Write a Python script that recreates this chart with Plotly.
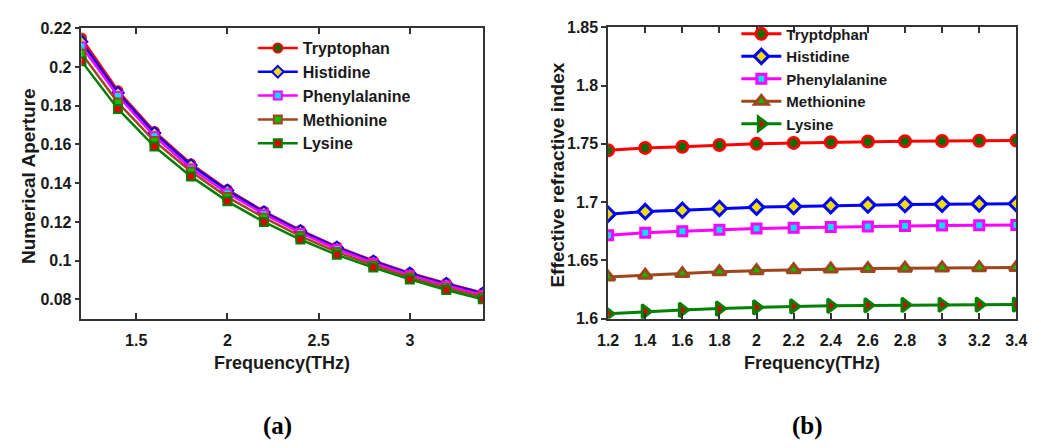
import plotly.graph_objects as go

# ---------------- data ----------------
freq = [1.2, 1.4, 1.6, 1.8, 2.0, 2.2, 2.4, 2.6, 2.8, 3.0, 3.2, 3.4]
names = ["Tryptophan", "Histidine", "Phenylalanine", "Methionine", "Lysine"]

na_tryptophan = [0.215, 0.1877, 0.1667, 0.1500, 0.1367, 0.1255, 0.1157, 0.1072, 0.1000, 0.0937, 0.0884, 0.0834]
na_histidine = [0.2130, 0.1866, 0.1659, 0.1493, 0.1362, 0.1250, 0.1153, 0.1068, 0.0996, 0.0933, 0.0880, 0.0830]
na_phenylalanine = [0.2106, 0.1850, 0.1642, 0.1476, 0.1348, 0.1240, 0.1143, 0.1060, 0.0988, 0.0925, 0.0872, 0.0823]
na_methionine = [0.2070, 0.1816, 0.1617, 0.1460, 0.1328, 0.1222, 0.1127, 0.1045, 0.0976, 0.0914, 0.0860, 0.0812]
na_lysine = [0.2030, 0.1783, 0.1589, 0.1435, 0.1306, 0.1200, 0.1109, 0.1030, 0.0964, 0.0903, 0.0848, 0.0801]

ri_tryptophan = [1.7445, 1.7465, 1.7475, 1.7490, 1.7500, 1.7508, 1.7514, 1.7520, 1.7522, 1.7525, 1.7527, 1.7528]
ri_histidine = [1.6897, 1.6919, 1.6930, 1.6946, 1.6957, 1.6963, 1.6970, 1.6975, 1.6979, 1.6982, 1.6985, 1.6987]
ri_phenylalanine = [1.6717, 1.6737, 1.6750, 1.6764, 1.6773, 1.6781, 1.6787, 1.6792, 1.6796, 1.6799, 1.6801, 1.6803]
ri_methionine = [1.6357, 1.6373, 1.6387, 1.6403, 1.6412, 1.6420, 1.6426, 1.6430, 1.6433, 1.6436, 1.6438, 1.6440]
ri_lysine = [1.6043, 1.6062, 1.6076, 1.6087, 1.6098, 1.6106, 1.6111, 1.6115, 1.6118, 1.6120, 1.6121, 1.6122]

a_xtick_vals = [1.5, 2.0, 2.5, 3.0]
a_xtick_text = ["1.5", "2", "2.5", "3"]
a_ytick_vals = [0.08, 0.10, 0.12, 0.14, 0.16, 0.18, 0.20, 0.22]
a_ytick_text = ["0.08", "0.1", "0.12", "0.14", "0.16", "0.18", "0.2", "0.22"]
b_xtick_vals = freq
b_xtick_text = ["1.2", "1.4", "1.6", "1.8", "2", "2.2", "2.4", "2.6", "2.8", "3", "3.2", "3.4"]
b_ytick_vals = [1.60, 1.65, 1.70, 1.75, 1.80, 1.85]
b_ytick_text = ["1.6", "1.65", "1.7", "1.75", "1.8", "1.85"]

# ---------------- styles ----------------
line_colors = ["#FF0000", "#0000FF", "#FF00FF", "#A0461E", "#008000"]
face_colors = ["#007000", "#F0E000", "#00E0FF", "#00C000", "#E00000"]
a_symbols = ["circle", "diamond", "square", "square", "square"]
b_symbols = ["circle", "diamond", "square", "triangle-up", "triangle-right"]
a_sizes = [9, 9, 8, 8, 8]
b_sizes = [11, 11, 9, 12, 12]

W, H = 1041, 448
TXT = "#1a1a1a"
AX = "#333333"
tickfont = dict(family="Liberation Sans", size=16, color=TXT, weight="bold")

fig = go.Figure()

na_series = [na_tryptophan, na_histidine, na_phenylalanine, na_methionine, na_lysine]
ri_series = [ri_tryptophan, ri_histidine, ri_phenylalanine, ri_methionine, ri_lysine]

for i, name in enumerate(names):
    fig.add_trace(go.Scatter(
        x=freq, y=na_series[i], name=name, mode="lines+markers",
        xaxis="x", yaxis="y", legend="legend",
        line=dict(color=line_colors[i], width=2.5),
        marker=dict(symbol=a_symbols[i], size=a_sizes[i], color=face_colors[i],
                    line=dict(color=line_colors[i], width=2)),
    ))

for i, name in enumerate(names):
    fig.add_trace(go.Scatter(
        x=freq, y=ri_series[i], name=name, mode="lines+markers",
        xaxis="x2", yaxis="y2", legend="legend2",
        line=dict(color=line_colors[i], width=3),
        marker=dict(symbol=b_symbols[i], size=b_sizes[i], color=face_colors[i],
                    line=dict(color=line_colors[i], width=3)),
    ))

a_dom_x = [72 / W, 482 / W]
b_dom_x = [610 / W, 1027 / W]
a_dom_y = [1 - 323 / H, 1 - 21 / H]
b_dom_y = [1 - 323 / H, 1 - 20 / H]

def xax(dom, anchor, tv, tt):
    return dict(domain=dom, anchor=anchor, range=[1.2, 3.4], tickvals=tv, ticktext=tt,
                ticks="inside", ticklen=6, tickwidth=1.5, tickcolor=AX, mirror="ticks",
                showline=True, linecolor=AX, linewidth=1.5, showgrid=False, zeroline=False,
                tickfont=tickfont, ticklabelstandoff=6)

def yax(dom, anchor, rng, tv, tt):
    return dict(domain=dom, anchor=anchor, range=rng, tickvals=tv, ticktext=tt,
                ticks="outside", ticklen=5, tickwidth=1.5, tickcolor=AX, mirror=True,
                showline=True, linecolor=AX, linewidth=1.5, showgrid=False, zeroline=False,
                tickfont=tickfont)

def yax_mirror(over, anchor, rng, tv):
    return dict(overlaying=over, anchor=anchor, side="right", range=rng, tickvals=tv,
                ticks="inside", ticklen=6, tickwidth=1.5, tickcolor=AX, showticklabels=False,
                showline=False, showgrid=False, zeroline=False)

a_yr = [0.07, 0.2200001]
b_yr = [1.6, 1.8500001]

legfont = dict(family="Liberation Sans", size=16, color=TXT, weight="bold")
legfont2 = dict(family="Liberation Sans", size=15, color=TXT, weight="bold")

fig.update_layout(
    width=W, height=H, margin=dict(l=0, r=0, t=0, b=0),
    paper_bgcolor="white", plot_bgcolor="white",
    xaxis=xax(a_dom_x, "y", a_xtick_vals, a_xtick_text),
    yaxis=yax(a_dom_y, "x", a_yr, a_ytick_vals, a_ytick_text),
    xaxis2=xax(b_dom_x, "y2", b_xtick_vals, b_xtick_text),
    yaxis2=yax(b_dom_y, "x2", b_yr, b_ytick_vals, b_ytick_text),
    yaxis3=yax_mirror("y", "x", a_yr, a_ytick_vals),
    yaxis4=yax_mirror("y2", "x2", b_yr, b_ytick_vals),
    legend=dict(x=247 / W, y=1 - 24 / H, xanchor="left", yanchor="top",
                bgcolor="rgba(0,0,0,0)", font=legfont, itemwidth=40),
    legend2=dict(x=741 / W, y=1 - 10 / H, xanchor="left", yanchor="top",
                 bgcolor="rgba(0,0,0,0)", font=legfont2, itemwidth=40),
    showlegend=True,
)

xtitlefont = dict(family="Liberation Sans", size=18, color=TXT, weight="bold")
ytitlefont = dict(family="Liberation Sans", size=19, color=TXT, weight="bold")
fig.add_annotation(x=277 / W, y=1 - 369 / H, xref="paper", yref="paper", text="Frequency(THz)",
                   showarrow=False, font=xtitlefont, xanchor="center", yanchor="middle")
fig.add_annotation(x=818 / W, y=1 - 369 / H, xref="paper", yref="paper", text="Frequency(THz)",
                   showarrow=False, font=xtitlefont, xanchor="center", yanchor="middle")
fig.add_annotation(x=18 / W, y=1 - 175 / H, xref="paper", yref="paper", text="Numerical Aperture",
                   showarrow=False, font=ytitlefont, textangle=-90, xanchor="center", yanchor="middle")
fig.add_annotation(x=558 / W, y=1 - 174 / H, xref="paper", yref="paper", text="Effective refractive index",
                   showarrow=False, font=ytitlefont, textangle=-90, xanchor="center", yanchor="middle")

capfont = dict(family="Liberation Serif", size=25, color="#000000", weight="bold")
fig.add_annotation(x=272 / W, y=1 - 434 / H, xref="paper", yref="paper", text="(a)",
                   showarrow=False, font=capfont, xanchor="center", yanchor="middle")
fig.add_annotation(x=814 / W, y=1 - 434 / H, xref="paper", yref="paper", text="(b)",
                   showarrow=False, font=capfont, xanchor="center", yanchor="middle")

fig.write_html("out.html")
